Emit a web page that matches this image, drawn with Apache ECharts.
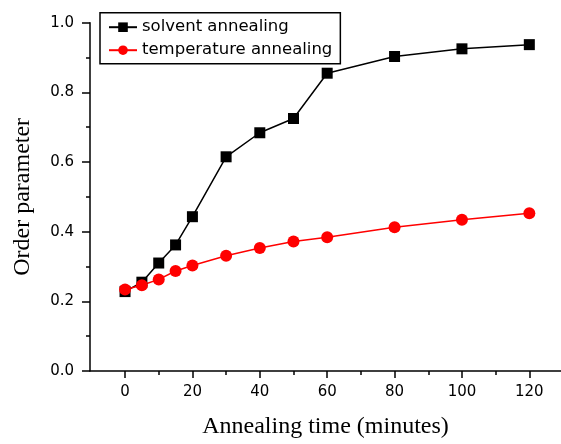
<!DOCTYPE html>
<html>
<head>
<meta charset="utf-8">
<script src="https://cdn.jsdelivr.net/npm/echarts@6.0.0/dist/echarts.min.js"></script>
<style>
  html, body { margin: 0; padding: 0; background: #fff; }
  #chart { width: 561px; height: 444px; }
</style>
</head>
<body>
<div id="chart"></div>
<script>
  // annealing time in minutes
  const solventTime = [0, 5, 10, 15, 20, 30, 40, 50, 60, 80, 100, 120];
  const solventOrder = [0.228, 0.255, 0.31, 0.362, 0.443, 0.615, 0.684, 0.725, 0.855, 0.903, 0.925, 0.937];
  const tempTime = [0, 5, 10, 15, 20, 30, 40, 50, 60, 80, 100, 120];
  const tempOrder = [0.234, 0.246, 0.263, 0.287, 0.303, 0.331, 0.353, 0.372, 0.384, 0.413, 0.434, 0.453];
  const xMajorTicks = [0, 20, 40, 60, 80, 100, 120];
  const xMinorTicks = [10, 30, 50, 70, 90, 110];

  const chart = echarts.init(document.getElementById("chart"));

  const tickFont = { fontFamily: "DejaVu Sans", fontSize: 15, color: "#000" };
  const nameFont = { fontFamily: "Liberation Serif", fontSize: 24, color: "#000" };

  const option = {
    backgroundColor: "#fff",
    animation: false,
    grid: { left: 90, right: 0, top: 22.7, bottom: 71.3 },
    legend: {
      orient: "vertical",
      left: 100,
      top: 12.7,
      padding: [6, 8, 5, 8],
      itemGap: 6,
      itemWidth: 28,
      itemHeight: 12,
      borderColor: "#000",
      borderWidth: 1.5,
      textStyle: { fontFamily: "DejaVu Sans", fontSize: 16.5, color: "#000" },
      data: ["solvent annealing", "temperature annealing"],
    },
    xAxis: [
      {
        type: "value",
        min: -10.4,
        max: 129.4,
        name: "Annealing time (minutes)",
        nameLocation: "middle",
        nameGap: 44,
        nameTextStyle: nameFont,
        axisLine: { show: true, onZero: false, lineStyle: { color: "#000", width: 1.5 } },
        axisTick: { show: true, inside: false, length: 7, customValues: xMajorTicks, lineStyle: { color: "#000", width: 1.5 } },
        axisLabel: { customValues: xMajorTicks, margin: 14, ...tickFont },
        splitLine: { show: false },
      },
      {
        type: "value",
        min: -10.4,
        max: 129.4,
        position: "bottom",
        axisLine: { show: false, onZero: false },
        axisTick: { show: true, inside: false, length: 4, customValues: xMinorTicks, lineStyle: { color: "#000", width: 1.5 } },
        axisLabel: { show: false },
        splitLine: { show: false },
      },
    ],
    yAxis: {
      type: "value",
      min: 0,
      max: 1,
      interval: 0.2,
      name: "Order parameter",
      nameLocation: "middle",
      nameGap: 55,
      nameTextStyle: nameFont,
      axisLine: { show: true, onZero: false, lineStyle: { color: "#000", width: 1.5 } },
      axisTick: { show: true, inside: false, length: 8, lineStyle: { color: "#000", width: 1.5 } },
      minorTick: { show: true, splitNumber: 2, length: 4, lineStyle: { color: "#000", width: 1.5 } },
      axisLabel: { margin: 16, formatter: (v) => v.toFixed(1), ...tickFont },
      splitLine: { show: false },
    },
    series: [
      {
        name: "solvent annealing",
        type: "line",
        symbol: "rect",
        symbolSize: 11,
        itemStyle: { color: "#000" },
        lineStyle: { color: "#000", width: 1.5 },
        data: solventTime.map((t, i) => [t, solventOrder[i]]),
      },
      {
        name: "temperature annealing",
        type: "line",
        symbol: "circle",
        symbolSize: 12,
        itemStyle: { color: "#ff0000" },
        lineStyle: { color: "#ff0000", width: 1.5 },
        data: tempTime.map((t, i) => [t, tempOrder[i]]),
      },
    ],
  };

  chart.setOption(option);
</script>
</body>
</html>
